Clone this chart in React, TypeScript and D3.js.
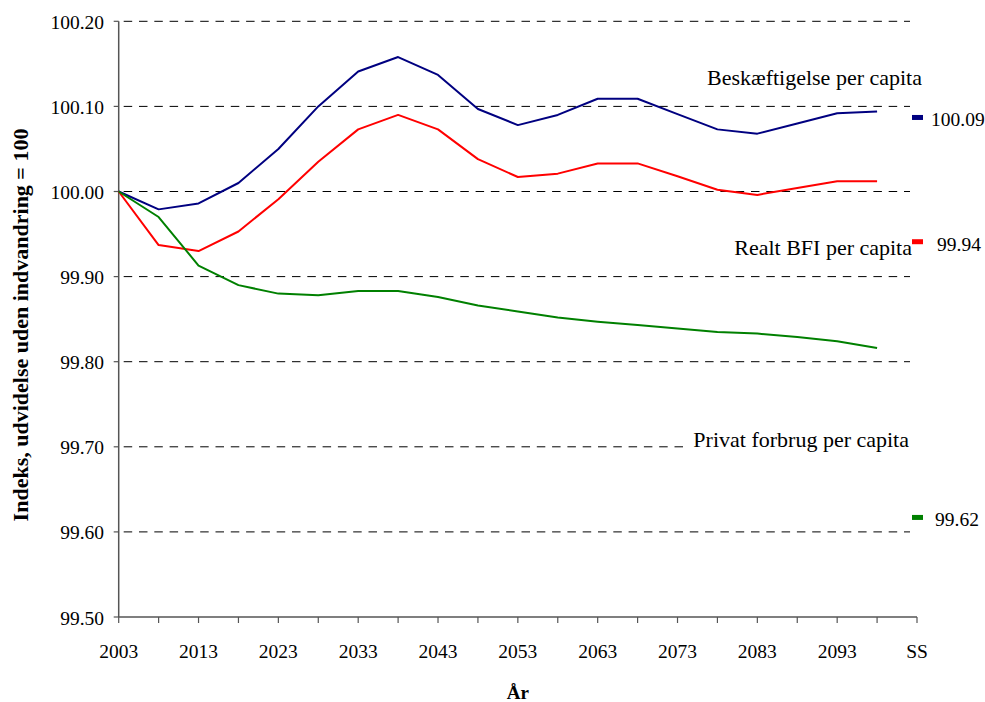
import * as d3 from "d3";

// years with data (5-year steps); the steady state "SS" sits one step after 2098
const years = [2003, 2008, 2013, 2018, 2023, 2028, 2033, 2038, 2043, 2048, 2053, 2058, 2063, 2068, 2073, 2078, 2083, 2088, 2093, 2098];
const tickYears = [2003, 2008, 2013, 2018, 2023, 2028, 2033, 2038, 2043, 2048, 2053, 2058, 2063, 2068, 2073, 2078, 2083, 2088, 2093, 2098, 2103];
const tickLabels = ["2003", "2013", "2023", "2033", "2043", "2053", "2063", "2073", "2083", "2093", "SS"];
const ssYear = 2103;
const yTicks = [99.5, 99.6, 99.7, 99.8, 99.9, 100.0, 100.1, 100.2];

const beskaeftigelse = [100.0, 99.979, 99.986, 100.01, 100.05, 100.1, 100.141, 100.158, 100.137, 100.097, 100.078, 100.09, 100.109, 100.109, 100.091, 100.073, 100.068, 100.08, 100.092, 100.094];
const realtBfi = [100.0, 99.937, 99.93, 99.953, 99.991, 100.035, 100.073, 100.09, 100.073, 100.038, 100.017, 100.021, 100.033, 100.033, 100.018, 100.002, 99.996, 100.004, 100.012, 100.012];
const privatForbrug = [100.0, 99.97, 99.913, 99.89, 99.88, 99.878, 99.883, 99.883, 99.876, 99.866, 99.859, 99.852, 99.847, 99.843, 99.839, 99.835, 99.833, 99.829, 99.824, 99.816];

const seriesNames = ["Beskæftigelse per capita", "Realt BFI per capita", "Privat forbrug per capita"];
const seriesColors = ["#000080", "#ff0000", "#008000"];
const ssValues = [100.087, 99.941, 99.617];
const ssLabels = ["100.09", "99.94", "99.62"];

const W = 985;
const H = 702;
const font = "Liberation Serif, Times New Roman, serif";

export default function App() {
  const x = d3.scaleLinear().domain([2003, ssYear]).range([118.7, 917]);
  const y = d3.scaleLinear().domain([99.5, 100.2]).range([617, 21.3]);

  const line = d3
    .line<number>()
    .x((d, i) => x(years[i]))
    .y((d) => y(d));

  const allSeries = [beskaeftigelse, realtBfi, privatForbrug];

  // name labels, placed relative to the SS column
  const nameLabels = [
    { x: x(ssYear) + 5, y: y(100.125) },
    { x: x(ssYear) - 5, y: y(99.925) },
    { x: x(ssYear) - 8, y: y(99.7) },
  ];
  const valueLabelX = [x(ssYear) + 14, x(ssYear) + 20, x(ssYear) + 18];

  return (
    <svg
      width={W}
      height={H}
      style={{ position: "absolute", left: 0, top: 0, background: "#fff", fontFamily: font }}
    >
      {/* dashed gridlines */}
      {yTicks.slice(1).map((v) => (
        <line
          key={v}
          x1={x(2003) + 5}
          x2={910}
          y1={y(v)}
          y2={y(v)}
          stroke="#000"
          strokeWidth={1}
          strokeDasharray="8.5,6.8"
        />
      ))}

      {/* y axis */}
      <line x1={x(2003)} x2={x(2003)} y1={y(100.2)} y2={y(99.5)} stroke="#555" strokeWidth={1.5} />
      {yTicks.map((v) => (
        <g key={v}>
          <line x1={x(2003) - 5} x2={x(2003)} y1={y(v)} y2={y(v)} stroke="#555" strokeWidth={1.2} />
          <text x={104} y={y(v) + 7.5} textAnchor="end" fontSize={19.5} fill="#000">
            {v.toFixed(2)}
          </text>
        </g>
      ))}

      {/* x axis */}
      <line x1={x(2003)} x2={x(ssYear)} y1={y(99.5)} y2={y(99.5)} stroke="#555" strokeWidth={1.5} />
      {tickYears.map((t) => (
        <line key={t} x1={x(t)} x2={x(t)} y1={y(99.5)} y2={y(99.5) + 6} stroke="#555" strokeWidth={1.2} />
      ))}
      {tickLabels.map((lab, i) => (
        <text key={lab} x={x(2003 + i * 10)} y={658} textAnchor="middle" fontSize={19.5} fill="#000">
          {lab}
        </text>
      ))}

      {/* series lines */}
      {allSeries.map((s, i) => (
        <path key={i} d={line(s) || ""} fill="none" stroke={seriesColors[i]} strokeWidth={2} strokeLinejoin="round" />
      ))}

      {/* SS markers and values */}
      {ssValues.map((v, i) => (
        <g key={i}>
          <rect x={x(ssYear) - 5} y={y(v) - 2.5} width={11} height={5} fill={seriesColors[i]} />
          <text x={valueLabelX[i]} y={y(v) + 9} fontSize={19.5} fill="#000">
            {ssLabels[i]}
          </text>
        </g>
      ))}

      {/* series names */}
      {seriesNames.map((n, i) => (
        <g key={n}>
          {i === 2 && (
            <rect x={nameLabels[i].x - 226} y={nameLabels[i].y - 17} width={230} height={24} fill="#fff" />
          )}
          <text x={nameLabels[i].x} y={nameLabels[i].y} textAnchor="end" fontSize={22} fill="#000">
            {n}
          </text>
        </g>
      ))}

      {/* axis titles */}
      <text
        transform={`translate(28,325) rotate(-90)`}
        textAnchor="middle"
        fontSize={22}
        fontWeight="bold"
        fill="#000"
      >
        Indeks, udvidelse uden indvandring = 100
      </text>
      <text x={(x(2003) + x(ssYear)) / 2} y={699} textAnchor="middle" fontSize={19} fontWeight="bold" fill="#000">
        År
      </text>
    </svg>
  );
}
